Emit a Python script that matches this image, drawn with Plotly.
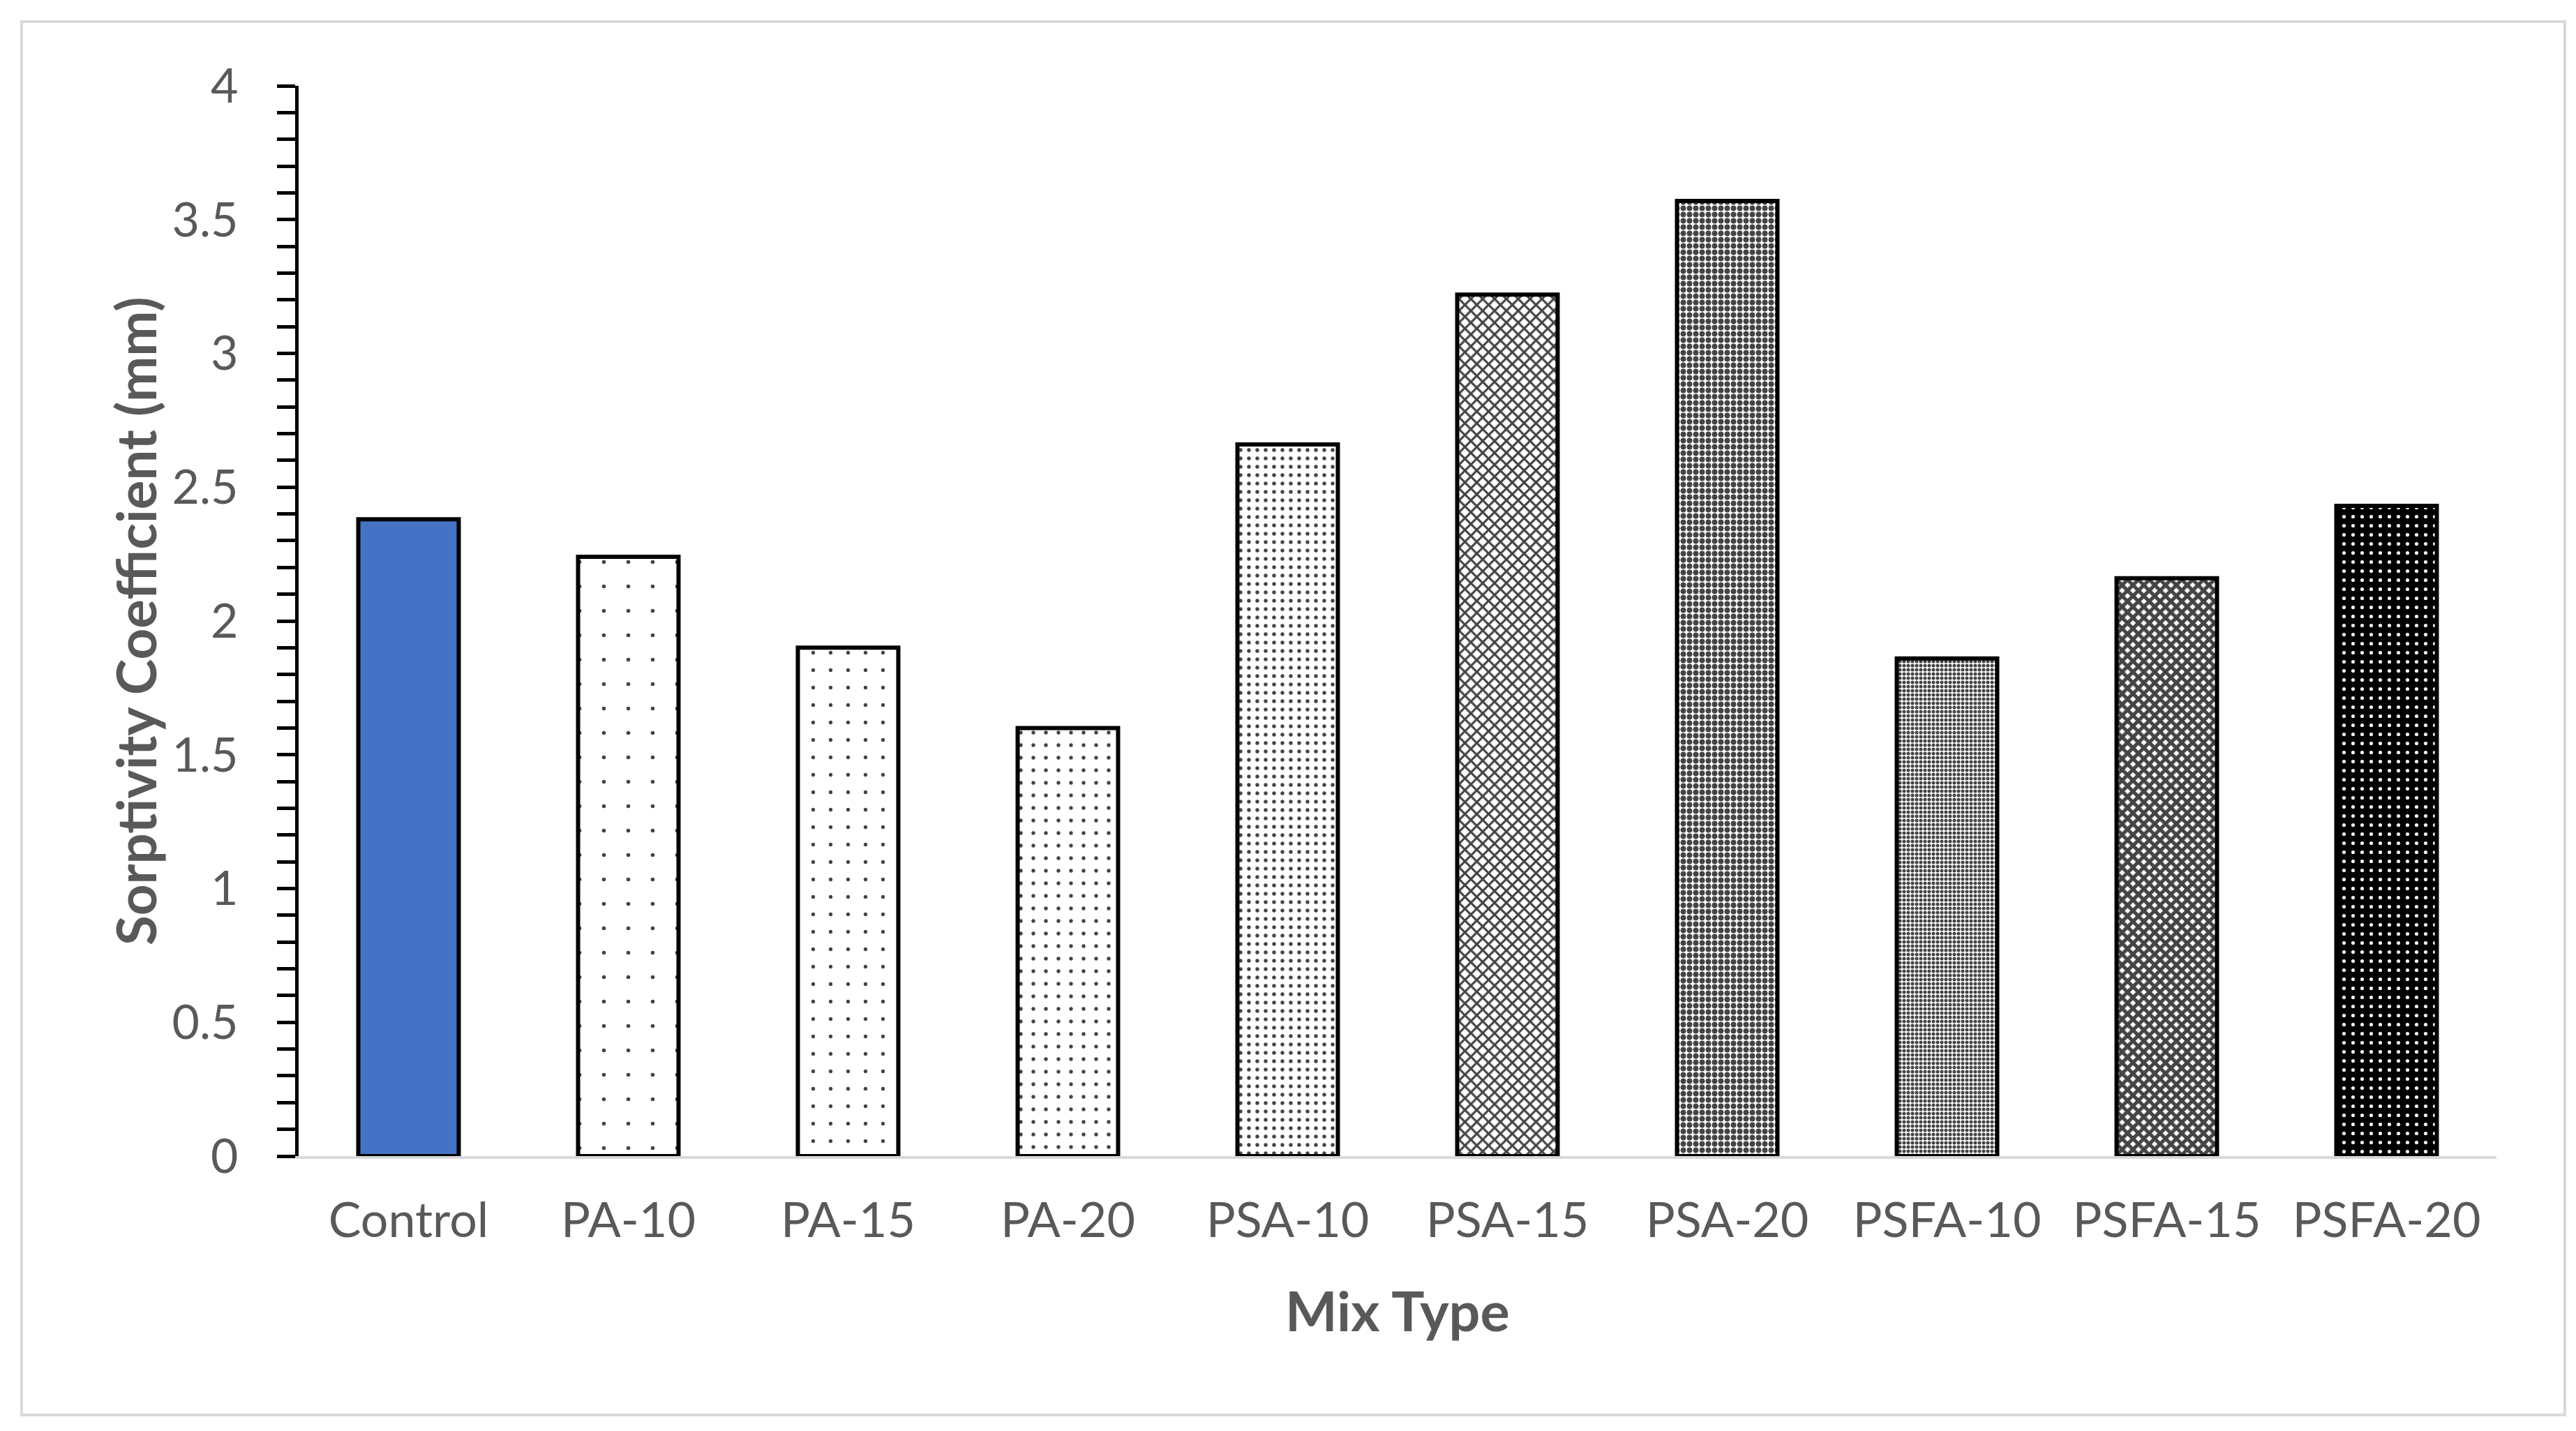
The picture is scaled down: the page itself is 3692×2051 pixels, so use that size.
import plotly.graph_objects as go

# data
mix_types = ["Control", "PA-10", "PA-15", "PA-20", "PSA-10", "PSA-15",
             "PSA-20", "PSFA-10", "PSFA-15", "PSFA-20"]
sorptivity = [2.38, 2.24, 1.90, 1.60, 2.66, 3.22, 3.57, 1.86, 2.16, 2.43]

# fill style per bar (solid blue for control, dot/checker patterns for the rest)
bar_colors = ["#4472C4", "white", "white", "white", "white", "white",
              "white", "white", "white", "black"]
pattern_shapes = ["", ".", ".", ".", ".", "x", ".", ".", "x", "."]
pattern_sizes = [10, 35, 25, 18, 12, 12, 9, 6, 11, 13]
pattern_solidity = [0.2, 0.02, 0.035, 0.07, 0.16, 0.45, 0.6, 0.55, 0.72, 0.12]
pattern_fg = ["black"] * 9 + ["white"]

W, H = 3692, 2051
OFF = 8  # the page body margin pushes the figure down/right by this much
FONT = "Lato"
GREY = "#595959"


def px_x(v):
    return (v - OFF) / W


def px_y(v):
    return 1 - (v - OFF) / H


fig = go.Figure()

fig.add_trace(go.Bar(
    x=mix_types,
    y=sorptivity,
    marker=dict(
        color=bar_colors,
        line=dict(color="black", width=6),
        pattern=dict(
            shape=pattern_shapes,
            size=pattern_sizes,
            solidity=pattern_solidity,
            fgcolor=pattern_fg,
            fgopacity=1,
        ),
    ),
    showlegend=False,
))

fig.update_layout(
    width=W, height=H,
    margin=dict(l=0, r=0, t=0, b=0, pad=0),
    paper_bgcolor="white",
    plot_bgcolor="white",
    bargap=0.543,
    font=dict(family=FONT, color=GREY, size=70),
    xaxis=dict(
        domain=[px_x(428), px_x(3578)],
        automargin=False,
        showline=True, linecolor="#D9D9D9", linewidth=4,
        ticks="", showgrid=False,
        tickfont=dict(family=FONT, size=70, color=GREY),
        ticklabelstandoff=28,
    ),
    yaxis=dict(
        domain=[px_y(1657), px_y(123)],
        automargin=False,
        range=[0, 4],
        tick0=0, dtick=0.5,
        showline=True, linecolor="black", linewidth=5,
        ticks="outside", ticklen=26, tickwidth=5, tickcolor="black",
        minor=dict(dtick=0.1, tick0=0, ticks="outside", ticklen=26,
                   tickwidth=5, tickcolor="black", showgrid=False),
        showgrid=False, zeroline=False,
        tickfont=dict(family=FONT, size=68, color=GREY),
        ticklabelstandoff=42,
    ),
)

# axis titles
fig.add_annotation(
    text="<b>Mix Type</b>", xref="paper", yref="paper",
    x=px_x((428 + 3578) / 2), y=px_y(1877), showarrow=False,
    xanchor="center", yanchor="middle",
    font=dict(family=FONT, size=79, color=GREY),
)
fig.add_annotation(
    text="<b>Sorptivity Coefficient (mm)</b>", xref="paper", yref="paper",
    x=px_x(194), y=px_y(890), showarrow=False, textangle=-90,
    xanchor="center", yanchor="middle",
    font=dict(family=FONT, size=78, color=GREY),
)

# chart area border
fig.add_shape(
    type="rect", xref="paper", yref="paper",
    x0=px_x(31), x1=px_x(3676), y0=px_y(2028), y1=px_y(31),
    line=dict(color="#D9D9D9", width=4), fillcolor="rgba(0,0,0,0)",
    layer="below",
)

fig.write_html("out.html")
